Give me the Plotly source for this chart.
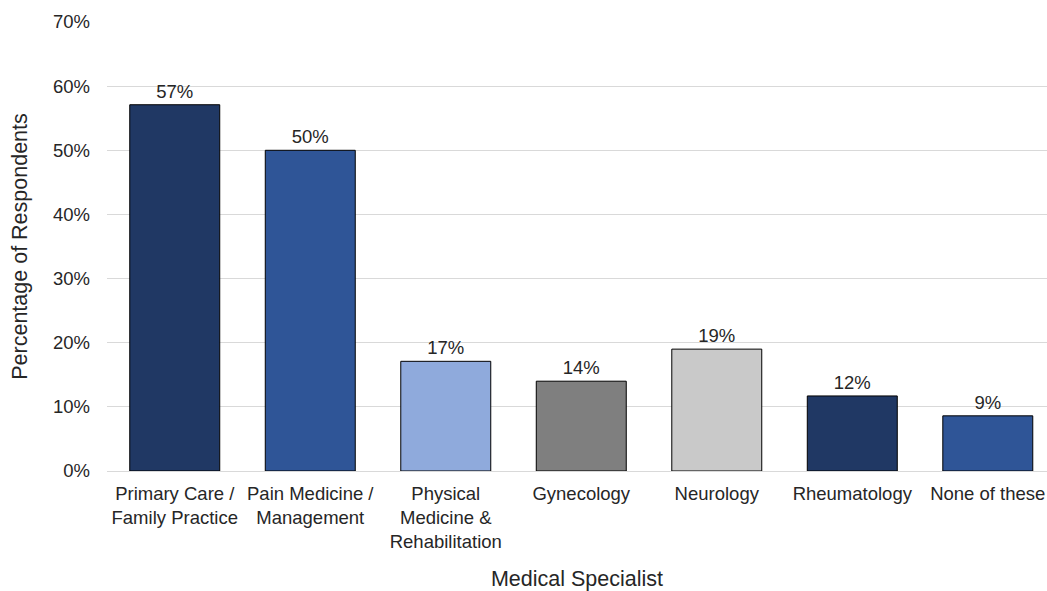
import plotly.graph_objects as go

categories = ["Primary Care /<br>Family Practice", "Pain Medicine /<br>Management",
              "Physical<br>Medicine &<br>Rehabilitation", "Gynecology", "Neurology",
              "Rheumatology", "None of these"]
values = [0.571, 0.50, 0.171, 0.14, 0.19, 0.117, 0.086]
colors = ["#203864", "#2F5597", "#8FAADC", "#7F7F7F", "#C9C9C9", "#203864", "#2F5597"]

FONT = "Liberation Sans, Arial"
TXT = "#262626"

fig = go.Figure(go.Bar(
    x=categories, y=values,
    marker=dict(color=colors, line=dict(color="#000000", width=1)),
    texttemplate="%{y:.0%}", textposition="outside",
    textfont=dict(family=FONT, size=18.5, color=TXT),
    cliponaxis=False,
))

fig.update_layout(
    width=1047, height=591,
    margin=dict(l=107, r=0, t=22, b=120),
    plot_bgcolor="white", paper_bgcolor="white",
    bargap=0.336, showlegend=False,
    font=dict(family=FONT, size=18.5, color=TXT),
    xaxis=dict(
        title=dict(text="Medical Specialist", font=dict(size=21.5), standoff=22),
        showline=True, linecolor="#D9D9D9", linewidth=1,
        tickfont=dict(size=18.5), ticks="", ticklabelstandoff=6,
        range=[-0.5, 6.437],
    ),
    yaxis=dict(
        title=dict(text="Percentage of Respondents", font=dict(size=21.5), standoff=19),
        range=[0, 0.70], dtick=0.10, tickformat=".0%",
        showgrid=True, gridcolor="#D9D9D9", gridwidth=1,
        zeroline=False, ticklabelstandoff=16, tickfont=dict(size=18.5),
    ),
)

fig.write_html("out.html", config={"displayModeBar": False},
               post_script="document.body.style.margin='0';document.body.style.overflow='hidden';")
